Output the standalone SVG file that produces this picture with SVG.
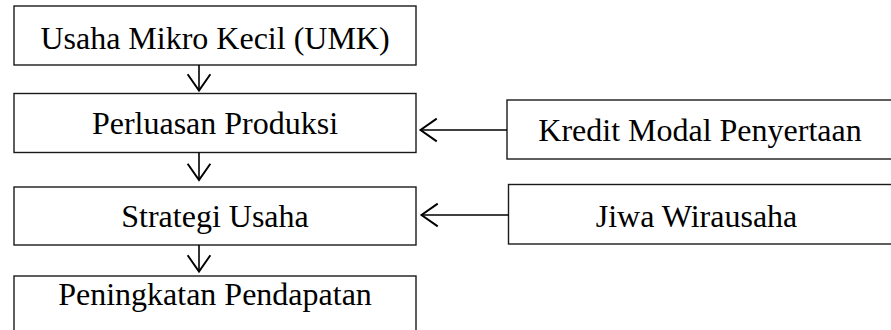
<svg xmlns="http://www.w3.org/2000/svg" width="891" height="330" viewBox="0 0 891 330">
<style>
.box{fill:#fff;stroke:#1a1a1a;stroke-width:1.4}
.lbl{font-family:"Liberation Serif","Times New Roman",serif;font-size:32px;fill:#000;text-anchor:middle}
.con{fill:none;stroke:#000;stroke-width:1.6}
</style>
<defs>
<marker id="ah" markerUnits="userSpaceOnUse" markerWidth="24" markerHeight="26" viewBox="-17 -12 19 24" refX="0" refY="0" orient="auto">
<path d="M-15,-10.5 L0,0 L-15,10.5" fill="none" stroke="#000" stroke-width="1.8"/>
</marker>
</defs>
<g id="n1"><rect class="box" x="14" y="6" width="402" height="59"/><text class="lbl" x="215" y="48.5">Usaha Mikro Kecil (UMK)</text></g>
<g id="n2"><rect class="box" x="14" y="93.5" width="402" height="59"/><text class="lbl" x="215" y="134">Perluasan Produksi</text></g>
<g id="n3"><rect class="box" x="14" y="187" width="402" height="58"/><text class="lbl" x="215" y="227">Strategi Usaha</text></g>
<g id="n4"><rect class="box" x="14" y="276" width="402" height="80"/><text class="lbl" x="215" y="305">Peningkatan Pendapatan</text></g>
<g id="n5"><rect class="box" x="507" y="100" width="400" height="59"/><text class="lbl" x="700" y="141">Kredit Modal Penyertaan</text></g>
<g id="n6"><rect class="box" x="508.5" y="184.5" width="400" height="59.5"/><text class="lbl" x="696.5" y="227">Jiwa Wirausaha</text></g>
<g id="connectors">
<line class="con" x1="199" y1="65" x2="199" y2="90.5" marker-end="url(#ah)"/>
<line class="con" x1="199" y1="152.5" x2="199" y2="180" marker-end="url(#ah)"/>
<line class="con" x1="199" y1="245" x2="199" y2="271.5" marker-end="url(#ah)"/>
<line class="con" x1="507" y1="130" x2="420.5" y2="130" marker-end="url(#ah)"/>
<line class="con" x1="508.5" y1="215" x2="421.5" y2="215" marker-end="url(#ah)"/>
</g>
</svg>
